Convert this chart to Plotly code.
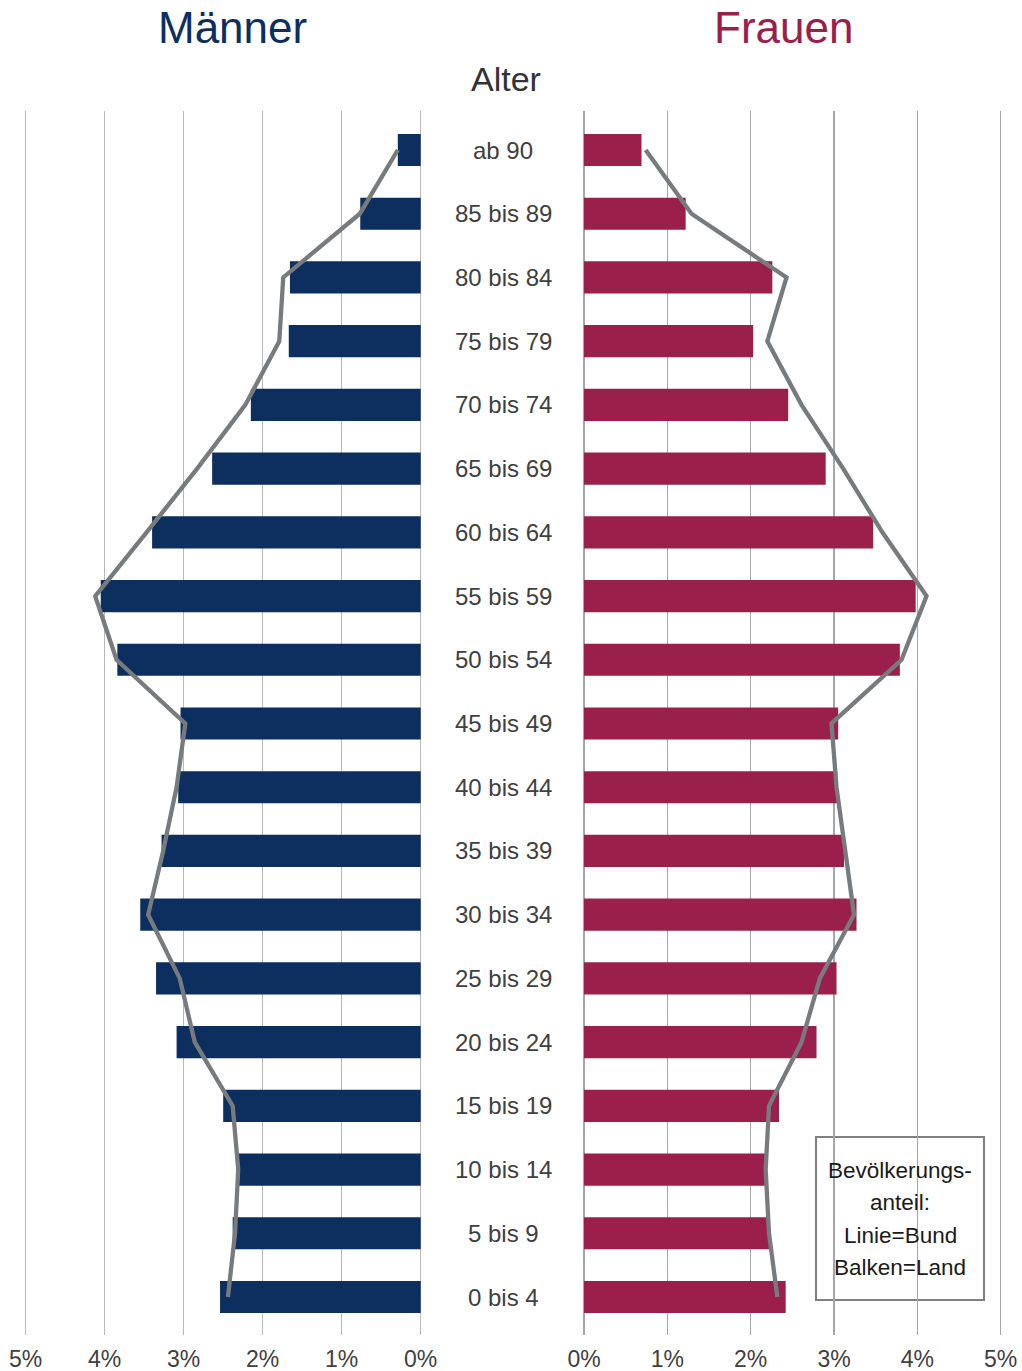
import plotly.graph_objects as go

# Age groups (bottom to top)
ages = ["0 bis 4", "5 bis 9", "10 bis 14", "15 bis 19", "20 bis 24", "25 bis 29",
        "30 bis 34", "35 bis 39", "40 bis 44", "45 bis 49", "50 bis 54", "55 bis 59",
        "60 bis 64", "65 bis 69", "70 bis 74", "75 bis 79", "80 bis 84", "85 bis 89", "ab 90"]

# Shares in percent (Balken = Land)
men_land = [2.54, 2.38, 2.30, 2.50, 3.09, 3.35, 3.55, 3.28, 3.07, 3.04, 3.84, 4.05,
            3.40, 2.64, 2.15, 1.67, 1.655, 0.765, 0.29]
women_land = [2.42, 2.23, 2.18, 2.34, 2.79, 3.03, 3.27, 3.12, 3.04, 3.05, 3.79, 3.98,
              3.47, 2.90, 2.45, 2.03, 2.26, 1.22, 0.69]

# Linie = Bund
men_bund = [2.44, 2.35, 2.31, 2.38, 2.86, 3.05, 3.45, 3.26, 3.09, 2.98, 3.85, 4.12,
            3.47, 2.83, 2.22, 1.79, 1.74, 0.77, 0.29]
women_bund = [2.32, 2.22, 2.18, 2.22, 2.61, 2.83, 3.24, 3.13, 3.03, 2.97, 3.81, 4.11,
              3.58, 3.11, 2.61, 2.20, 2.43, 1.29, 0.74]

tick_vals = [0, 1, 2, 3, 4, 5]
tick_text = ["0%", "1%", "2%", "3%", "4%", "5%"]

legend_lines = ["Bevölkerungs-", "anteil:", "Linie=Bund", "Balken=Land"]

NAVY = "#0c2f5f"
CRIMSON = "#9a204b"
LINE = "#777b7e"
TEXT = "#404040"
FONT = "Liberation Sans, Arial"

W, H = 1022, 1371


def fx(px):
    return px / W


def fy(py):
    return 1 - py / H


fig = go.Figure()
fig.add_trace(go.Bar(y=ages, x=men_land, orientation="h", marker_color=NAVY,
                     marker_line_width=0, xaxis="x", yaxis="y", showlegend=False))
fig.add_trace(go.Bar(y=ages, x=women_land, orientation="h", marker_color=CRIMSON,
                     marker_line_width=0, xaxis="x2", yaxis="y", showlegend=False))
fig.add_trace(go.Scatter(y=ages, x=men_bund, mode="lines", line=dict(color=LINE, width=4.3),
                         xaxis="x", yaxis="y", showlegend=False))
fig.add_trace(go.Scatter(y=ages, x=women_bund, mode="lines", line=dict(color=LINE, width=4.3),
                         xaxis="x2", yaxis="y", showlegend=False))

pad = 3
lpx = (420.7 - 25.7) / 5
rpx = (1000.7 - 584) / 5


def xaxis_style(gridcolor):
    return dict(tickvals=tick_vals, ticktext=tick_text, showgrid=True,
                gridcolor=gridcolor, gridwidth=1.2, zeroline=False, showline=False,
                ticks="", ticklabelstandoff=8, automargin=False,
                tickfont=dict(family=FONT, size=23, color=TEXT), fixedrange=True)


row = (1297 - 150) / (len(ages) - 1)
fig.update_layout(
    width=W, height=H,
    margin=dict(l=0, r=0, t=0, b=0, autoexpand=False),
    paper_bgcolor="white", plot_bgcolor="white",
    bargap=0.495,
    xaxis=dict(domain=[fx(25.7 - pad), fx(420.7 + pad)],
               range=[5 + pad / lpx, -pad / lpx], anchor="y", **xaxis_style("#b8b8b8")),
    xaxis2=dict(domain=[fx(584 - pad), fx(1000.7 + pad)],
                range=[-pad / rpx, 5 + pad / rpx], anchor="y", **xaxis_style("#a6a6a6")),
    yaxis=dict(domain=[fy(1335), fy(111)], type="category",
               categoryorder="array", categoryarray=ages,
               range=[-(1335 - 1297) / row, len(ages) - 1 + (150 - 111) / row],
               showticklabels=False, showgrid=False, zeroline=False,
               automargin=False, fixedrange=True),
)

annotations = []
for a in ages:
    annotations.append(dict(x=fx(503), xref="paper", y=a, yref="y", text=a,
                            showarrow=False, xanchor="center", yanchor="middle",
                            font=dict(family=FONT, size=24, color=TEXT)))
annotations.append(dict(x=fx(232), y=fy(27), xref="paper", yref="paper", text="Männer",
                        showarrow=False, xanchor="center", yanchor="middle",
                        font=dict(family=FONT, size=44, color=NAVY)))
annotations.append(dict(x=fx(783), y=fy(27), xref="paper", yref="paper", text="Frauen",
                        showarrow=False, xanchor="center", yanchor="middle",
                        font=dict(family=FONT, size=44, color=CRIMSON)))
annotations.append(dict(x=fx(506), y=fy(79), xref="paper", yref="paper", text="Alter",
                        showarrow=False, xanchor="center", yanchor="middle",
                        font=dict(family=FONT, size=34, color="#333333")))
for i, t in enumerate(legend_lines):
    annotations.append(dict(x=fx(900), y=fy(1170 + i * 32.5), xref="paper", yref="paper",
                            text=t, showarrow=False, xanchor="center", yanchor="middle",
                            font=dict(family=FONT, size=22.5, color="#1a1a1a")))
fig.update_layout(annotations=annotations)

fig.add_shape(type="rect", xref="paper", yref="paper",
              x0=fx(816), x1=fx(984), y0=fy(1300), y1=fy(1137),
              line=dict(color="#808080", width=2), fillcolor="white", layer="below")

fig.write_html("out.html",
               config={"displayModeBar": False, "staticPlot": True},
               post_script="document.body.style.margin='0';"
                           "document.body.style.overflow='hidden';")
